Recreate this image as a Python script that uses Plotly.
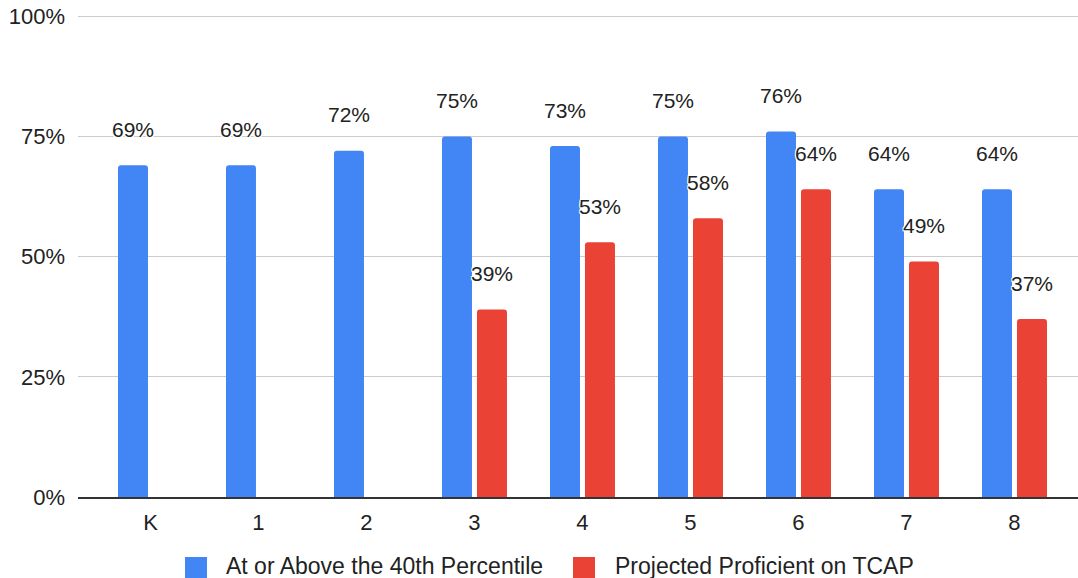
import plotly.graph_objects as go

# Share of students by grade
grades = ["K", "1", "2", "3", "4", "5", "6", "7", "8"]
percentile_40 = [69, 69, 72, 75, 73, 75, 76, 64, 64]
proficient_tcap = [None, None, None, 39, 53, 58, 64, 49, 37]
series_names = ["At or Above the 40th Percentile", "Projected Proficient on TCAP"]
y_tick_values = [0, 25, 50, 75, 100]
y_tick_labels = [f"{v}%" for v in y_tick_values]

BLUE = "#4285F4"
RED = "#EA4335"
TEXT = "#222222"
FONT = "Liberation Sans, Arial, Helvetica, sans-serif"
HALO = "white 1px 1px 0, white -1px -1px 0, white 1px -1px 0, white -1px 1px 0, white 0 0 2px"

W, H = 1078, 578
ML, MR, MT, MB = 78, 0, 15, 81
plot_w = W - ML - MR
plot_h = H - MT - MB

X_LO, X_HI = -0.671, 8.588
Y_LO, Y_HI = 0, 100.25
BARGAP = 0.352
BARGROUPGAP = 0.143

fig = go.Figure()
series = [(percentile_40, BLUE), (proficient_tcap, RED)]
for (vals, color), name in zip(series, series_names):
    fig.add_trace(go.Bar(
        x=grades, y=vals, name=name,
        marker=dict(color=color, cornerradius=3, line=dict(width=0)),
        showlegend=False, hoverinfo="skip",
    ))

# value labels sit a fixed distance above each bar, centred on the bar
cat_px = plot_w / (X_HI - X_LO)
slot_px = cat_px * (1 - BARGAP) / 2
offsets = [-slot_px / 2, slot_px / 2]
annotations = []
for (vals, _), dx in zip(series, offsets):
    for g, v in zip(grades, vals):
        if v is None:
            continue
        annotations.append(dict(
            x=g, y=v, xref="x", yref="y", text=f"{v}%", showarrow=False,
            xshift=dx, yshift=36, xanchor="center", yanchor="middle",
            font=dict(family=FONT, size=21, color=TEXT, shadow=HALO),
        ))


def px_x(px):
    return (px - ML) / plot_w


def px_y(py):
    return (H - MB - py) / plot_h


# legend drawn below the axis
shapes = []
legend_items = [(185, 224, BLUE), (573, 613, RED)]
for (sx, tx, color), name in zip(legend_items, series_names):
    shapes.append(dict(
        type="rect", xref="paper", yref="paper",
        x0=px_x(sx), x1=px_x(sx + 22), y0=px_y(557), y1=px_y(579),
        fillcolor=color, line=dict(width=0), layer="above",
    ))
    annotations.append(dict(
        x=px_x(tx), y=px_y(566), xref="paper", yref="paper", text=name,
        showarrow=False, xanchor="left", yanchor="middle",
        font=dict(family=FONT, size=23, color=TEXT),
    ))

fig.update_layout(
    width=W, height=H,
    margin=dict(l=ML, r=MR, t=MT, b=MB, pad=0),
    paper_bgcolor="white", plot_bgcolor="white",
    barmode="group", bargap=BARGAP, bargroupgap=BARGROUPGAP,
    font=dict(family=FONT, size=22, color=TEXT),
    annotations=annotations, shapes=shapes,
    showlegend=False,
    xaxis=dict(
        type="category", range=[X_LO, X_HI],
        showgrid=False, showline=True, linecolor="#333333", linewidth=1.5,
        ticks="", tickfont=dict(size=22, color=TEXT), ticklabelstandoff=5,
        fixedrange=True,
    ),
    yaxis=dict(
        range=[Y_LO, Y_HI], tickmode="array",
        tickvals=y_tick_values, ticktext=y_tick_labels,
        showgrid=True, gridcolor="#cccccc", gridwidth=1,
        zeroline=False, showline=False, ticks="",
        tickfont=dict(size=22, color=TEXT), ticklabelstandoff=12,
        fixedrange=True,
    ),
)

fig.write_html("out.html", config={"displayModeBar": False})
